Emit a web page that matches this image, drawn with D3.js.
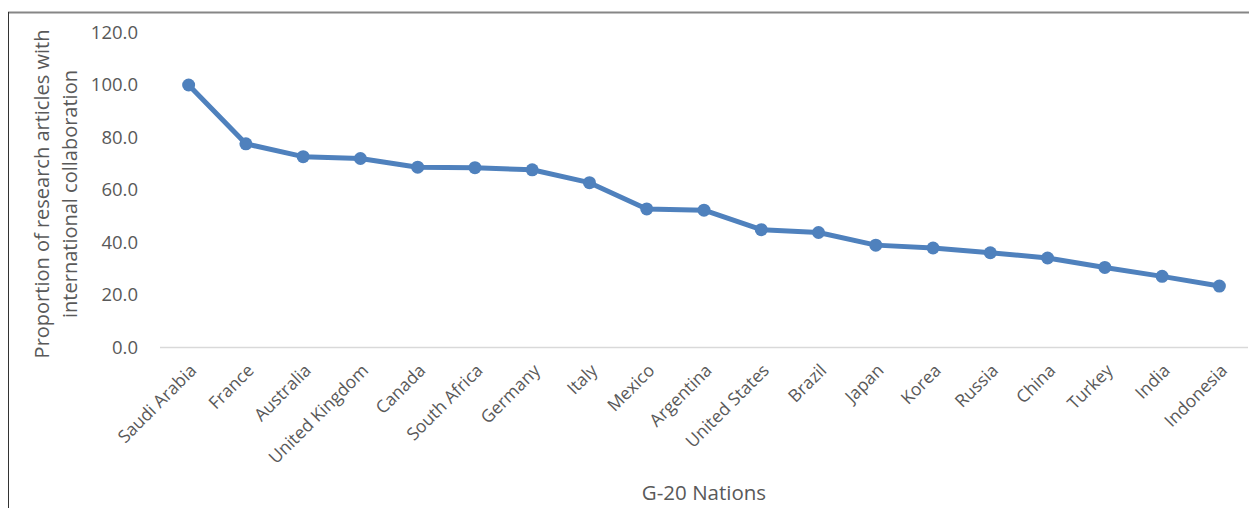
<!DOCTYPE html>
<html>
<head>
<meta charset="utf-8">
<script src="https://cdn.jsdelivr.net/npm/d3@7"></script>
<style>
  body { margin: 0; background: #fff; }
  svg text { font-family: "Open Sans", sans-serif; fill: #595959; }
</style>
</head>
<body>
<div id="chart"></div>
<script>
const nations = ["Saudi Arabia", "France", "Australia", "United Kingdom", "Canada",
  "South Africa", "Germany", "Italy", "Mexico", "Argentina", "United States",
  "Brazil", "Japan", "Korea", "Russia", "China", "Turkey", "India", "Indonesia"];
const shares = [100.0, 77.6, 72.7, 72.0, 68.7, 68.5, 67.7, 62.8, 52.8, 52.3, 44.9,
  43.8, 39.0, 37.9, 36.1, 34.1, 30.5, 27.1, 23.4];
const yTicks = [0, 20, 40, 60, 80, 100, 120];

let width = 1249,
    height = 508;

let svg = d3.select("#chart")
  .append("svg")
  .attr("width", width)
  .attr("height", height);

// outer frame (top + left edges visible)
svg.append("line")
  .attr("x1", 8).attr("x2", width).attr("y1", 12.5).attr("y2", 12.5)
  .attr("stroke", "#868686").attr("stroke-width", 2);
svg.append("line")
  .attr("x1", 8.5).attr("x2", 8.5).attr("y1", 12).attr("y2", height)
  .attr("stroke", "#333").attr("stroke-width", 1);

let x = d3.scaleBand()
  .domain(nations)
  .range([160, 1248]);

let y = d3.scaleLinear()
  .domain([0, 120])
  .range([347.5, 32.5]);

// y axis labels
let yAxis = svg.append("g")
  .attr("transform", "translate(138,0)")
  .call(d3.axisLeft(y).tickValues(yTicks).tickFormat(d3.format(".1f")).tickSize(0).tickPadding(0));
yAxis.select(".domain").remove();
yAxis.selectAll("text")
  .style("font-size", "18.5px")
  .attr("fill", "#595959");

// baseline
svg.append("line")
  .attr("x1", 160).attr("x2", 1248)
  .attr("y1", y(0)).attr("y2", y(0))
  .attr("stroke", "#d9d9d9").attr("stroke-width", 1.3);

// x axis labels
let xAxis = svg.append("g")
  .attr("transform", "translate(0," + y(0) + ")")
  .call(d3.axisBottom(x).tickSize(0).tickPadding(0));
xAxis.select(".domain").remove();
xAxis.selectAll("text")
  .style("font-size", "17.5px")
  .attr("fill", "#595959")
  .attr("text-anchor", "end")
  .attr("dy", null)
  .attr("y", null)
  .attr("transform", "translate(9,24) rotate(-45)");

// line
let line = d3.line()
  .x(function(d, i) { return x(nations[i]) + x.bandwidth() / 2; })
  .y(function(d) { return y(d); });

svg.append("path")
  .datum(shares)
  .attr("d", line)
  .attr("fill", "none")
  .attr("stroke", "#4F81BD")
  .attr("stroke-width", 5)
  .attr("stroke-linejoin", "round");

svg.append("g")
  .selectAll("circle")
  .data(shares)
  .enter().append("circle")
  .attr("cx", function(d, i) { return x(nations[i]) + x.bandwidth() / 2; })
  .attr("cy", function(d) { return y(d); })
  .attr("r", 6.5)
  .attr("fill", "#4F81BD");

// axis titles
svg.append("text")
  .attr("transform", "translate(49,194) rotate(-90)")
  .attr("text-anchor", "middle")
  .style("font-size", "20px")
  .text("Proportion of research articles with");
svg.append("text")
  .attr("transform", "translate(77,194) rotate(-90)")
  .attr("text-anchor", "middle")
  .style("font-size", "20px")
  .text("international collaboration");

svg.append("text")
  .attr("x", 704)
  .attr("y", 500)
  .attr("text-anchor", "middle")
  .style("font-size", "20.5px")
  .text("G-20 Nations");
</script>
</body>
</html>
